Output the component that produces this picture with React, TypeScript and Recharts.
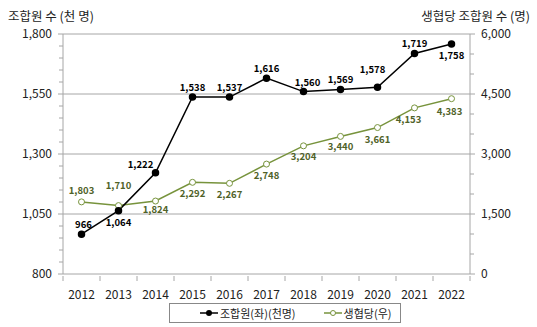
import React from 'react';
import { ComposedChart, Line, XAxis, YAxis, ReferenceLine, LabelList } from 'recharts';

const years = ['2012', '2013', '2014', '2015', '2016', '2017', '2018', '2019', '2020', '2021', '2022'];
const members = [966, 1064, 1222, 1538, 1537, 1616, 1560, 1569, 1578, 1719, 1758];
const perCoop = [1803, 1710, 1824, 2292, 2267, 2748, 3204, 3440, 3661, 4153, 4383];
const leftTicks = Array.from({ length: 21 }, (_, i) => 800 + i * 50);
const rightTicks = Array.from({ length: 13 }, (_, i) => i * 500);
const leftMajor = [800, 1050, 1300, 1550, 1800];
const rightMajor = [0, 1500, 3000, 4500, 6000];

// label placement: [dx, dy] from the point
const memberLabelPos = [[2, -9], [0, 12], [-15, -8], [0, -9], [0, -9], [0, -9], [4, -9], [0, -9], [-5, -17], [0, -9], [0, 12]];
const coopLabelPos = [[0, -11], [0, -20], [0, 9], [0, 12], [0, 12], [0, 12], [0, 11], [0, 11], [0, 12], [-6, 12], [-2, 13]];

const data = years.map((year, i) => ({ year, members: members[i], perCoop: perCoop[i] }));

const FONT = '"Noto Sans CJK KR", "Noto Sans", sans-serif';
const AXIS = '#a6a6a6';
const GREEN = '#77933c';
const GREEN_TEXT = '#4f6228';
const PLOT_W = 407;
const HALF = PLOT_W / years.length / 2;

const fmt = (v: number) => v.toLocaleString('en-US');

const YTick = (props: any) => {
  const { x, y, payload, side } = props;
  const major = (side === 'left' ? leftMajor : rightMajor).includes(payload.value);
  const len = major ? 5 : 4;
  if (side === 'left') {
    return (
      <g>
        <line x1={x - len} x2={x} y1={y} y2={y} stroke={AXIS} />
        {major && (
          <text x={x - 11} y={y + 4} textAnchor="end" fontSize={12} fill="#222" fontFamily={FONT}>
            {fmt(payload.value)}
          </text>
        )}
      </g>
    );
  }
  return (
    <g>
      <line x1={x} x2={x + len} y1={y} y2={y} stroke={AXIS} />
      {major && (
        <text x={x + 11} y={y + 4} textAnchor="start" fontSize={12} fill="#222" fontFamily={FONT}>
          {fmt(payload.value)}
        </text>
      )}
    </g>
  );
};

const XTick = (props: any) => {
  const { x, y, payload, index } = props;
  return (
    <g>
      <line x1={x - HALF} x2={x - HALF} y1={y} y2={y + 5} stroke={AXIS} />
      {index === years.length - 1 && <line x1={x + HALF} x2={x + HALF} y1={y} y2={y + 5} stroke={AXIS} />}
      <text x={x} y={y + 23} textAnchor="middle" fontSize={12} fill="#222" fontFamily={FONT}>
        {payload.value}
      </text>
    </g>
  );
};

const makeLabel = (pos: number[][], color: string) => (props: any) => {
  const { x, y, value, index } = props;
  const [dx, dy] = pos[index];
  return (
    <text x={x + dx} y={y + dy + 3} textAnchor="middle" fontSize={9.5} fontWeight="bold" fill={color} fontFamily={FONT}>
      {fmt(value)}
    </text>
  );
};

export default function App() {
  return (
    <div style={{ position: 'absolute', left: 0, top: 0, width: 537, height: 327, background: '#fff', fontFamily: FONT }}>
      <div style={{ position: 'absolute', left: 8, top: 6, fontSize: 12.5, color: '#222' }}>조합원 수 (천 명)</div>
      <div style={{ position: 'absolute', right: 7, top: 6, fontSize: 12.5, color: '#222' }}>생협당 조합원 수 (명)</div>
      <ComposedChart width={537} height={327} data={data} margin={{ top: 34, right: 0, left: 0, bottom: 25 }}>
        <XAxis
          dataKey="year"
          height={28}
          stroke={AXIS}
          tickLine={false}
          tickSize={0}
          tick={<XTick />}
          interval={0}
          padding={{ left: HALF, right: HALF }}
        />
        <YAxis
          yAxisId="left"
          width={63}
          domain={[800, 1800]}
          ticks={leftTicks}
          interval={0}
          stroke={AXIS}
          tickLine={false}
          tickSize={0}
          tickMargin={0}
          tick={<YTick side="left" />}
        />
        <YAxis
          yAxisId="right"
          orientation="right"
          width={67}
          domain={[0, 6000]}
          ticks={rightTicks}
          interval={0}
          stroke={AXIS}
          tickLine={false}
          tickSize={0}
          tickMargin={0}
          tick={<YTick side="right" />}
        />
        {leftMajor.slice(1).map((v) => (
          <ReferenceLine key={v} yAxisId="left" y={v} stroke={AXIS} />
        ))}
        <Line
          yAxisId="right"
          dataKey="perCoop"
          stroke={GREEN}
          strokeWidth={1.5}
          dot={{ r: 3, fill: '#fff', stroke: GREEN, strokeWidth: 1 }}
          isAnimationActive={false}
        >
          <LabelList dataKey="perCoop" content={makeLabel(coopLabelPos, GREEN_TEXT)} />
        </Line>
        <Line
          yAxisId="left"
          dataKey="members"
          stroke="#000"
          strokeWidth={1.5}
          dot={{ r: 3, fill: '#000', stroke: '#000' }}
          isAnimationActive={false}
        >
          <LabelList dataKey="members" content={makeLabel(memberLabelPos, '#000')} />
        </Line>
      </ComposedChart>
      <div
        style={{
          position: 'absolute',
          left: 169,
          top: 303,
          width: 230,
          height: 18,
          border: '1px solid #888',
          display: 'flex',
          alignItems: 'center',
          fontSize: 11,
          color: '#222',
        }}
      >
        <svg width={18} height={10} style={{ marginLeft: 30 }}>
          <line x1={0} x2={18} y1={5} y2={5} stroke="#000" strokeWidth={1.5} />
          <circle cx={9} cy={5} r={3} fill="#000" />
        </svg>
        <span style={{ marginLeft: 2 }}>조합원(좌)(천명)</span>
        <svg width={18} height={10} style={{ marginLeft: 28 }}>
          <line x1={0} x2={18} y1={5} y2={5} stroke={GREEN} strokeWidth={1.5} />
          <circle cx={9} cy={5} r={2.5} fill="#fff" stroke={GREEN} />
        </svg>
        <span style={{ marginLeft: 2 }}>생협당(우)</span>
      </div>
    </div>
  );
}
